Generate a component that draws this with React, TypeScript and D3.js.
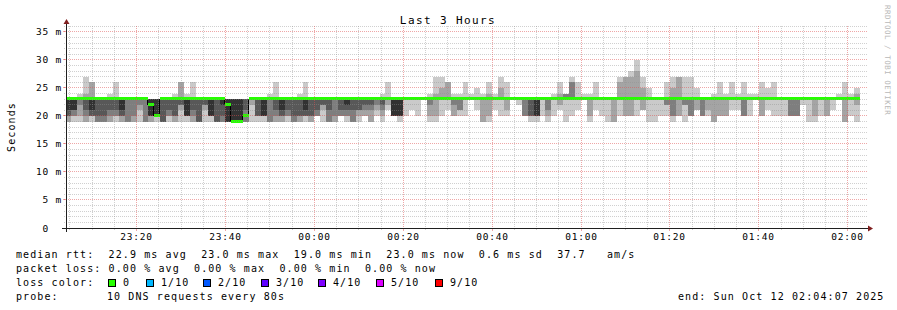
import React from 'react';
import * as d3 from 'd3';

// ---- data ----
// 10 sorted ping RTTs (ms) per 80 s step, first step is a partial one
const pings: number[][] = [
  [19,19,20,20,21,23,23,23,23,23],
  [19,20,20,21,21,23,23,23,23,23],
  [19,20,22,23,23,23,23,23,23,24],
  [19,19,20,21,23,23,23,23,24,27],
  [19,20,20,20,21,23,23,23,26,26],
  [19,19,19,20,23,23,23,23,23,23],
  [19,19,19,20,23,23,23,23,23,23],
  [19,19,20,21,23,23,23,23,23,24],
  [19,20,20,21,23,23,23,23,23,26],
  [19,19,20,20,21,23,23,23,23,23],
  [19,19,19,23,23,23,23,23,23,23],
  [19,19,20,23,23,23,23,23,23,23],
  [19,21,22,23,23,23,23,23,23,23],
  [19,19,19,23,23,23,23,23,23,23],
  [19,19,20,20,20,23,23,23,23,23],
  [19,20,20,20,20,23,23,23,23,23],
  [19,19,19,19,23,23,23,23,23,23],
  [19,20,20,21,23,23,23,23,23,23],
  [19,19,20,20,23,23,23,23,23,24],
  [19,21,22,22,23,23,23,23,26,26],
  [19,20,20,20,20,23,23,23,23,24],
  [19,19,20,21,23,23,23,23,23,26],
  [19,19,19,19,23,23,23,23,23,23],
  [19,21,22,22,23,23,23,23,23,23],
  [19,20,20,20,20,23,23,23,23,23],
  [19,19,19,19,23,23,23,23,23,23],
  [19,19,19,20,22,23,23,23,23,23],
  [19,19,19,19,19,23,23,23,23,23],
  [19,19,19,19,19,23,23,23,23,23],
  [19,19,19,19,19,23,23,23,23,23],
  [19,19,19,21,23,23,23,23,23,23],
  [19,22,23,23,23,23,23,23,23,23],
  [19,20,20,20,23,23,23,23,23,23],
  [19,20,20,20,20,23,23,23,23,23],
  [19,19,19,23,23,23,23,23,23,24],
  [19,19,20,21,23,23,23,23,23,26],
  [19,19,20,20,21,23,23,23,23,23],
  [19,20,20,21,23,23,23,23,23,23],
  [19,19,19,20,23,23,23,23,23,23],
  [19,19,20,20,23,23,23,23,23,24],
  [19,20,20,20,21,23,23,23,23,26],
  [19,19,20,20,23,23,23,23,23,23],
  [20,20,20,21,23,23,23,23,23,23],
  [19,21,22,22,23,23,23,23,23,23],
  [19,19,19,21,23,23,23,23,23,23],
  [19,19,20,23,23,23,23,23,23,23],
  [20,20,20,21,23,23,23,23,23,23],
  [19,20,20,21,22,23,23,23,23,23],
  [19,19,19,21,23,23,23,23,23,23],
  [19,20,21,21,23,23,23,23,23,23],
  [20,20,21,22,23,23,23,23,23,23],
  [19,19,21,22,23,23,23,23,23,23],
  [20,21,22,23,23,23,23,23,23,23],
  [19,20,21,22,23,23,23,23,23,24],
  [21,22,23,23,23,23,23,23,23,26],
  [20,20,20,20,20,23,23,23,23,23],
  [19,20,20,20,20,23,23,23,23,23],
  [20,23,23,23,23,23,23,23,23,23],
  [21,23,23,23,23,23,23,23,23,23],
  [20,23,23,23,23,23,23,23,23,23],
  [23,23,23,23,23,23,23,23,23,23],
  [19,20,22,23,23,23,23,23,23,24],
  [19,20,23,23,23,23,23,23,24,27],
  [20,23,23,23,23,23,23,23,25,27],
  [21,23,23,23,23,23,23,23,26,26],
  [20,20,22,23,23,23,23,23,23,24],
  [20,21,21,23,23,23,23,23,23,24],
  [20,23,23,23,23,23,23,23,23,26],
  [23,23,23,23,23,23,23,23,23,24],
  [21,23,23,23,23,23,23,23,23,25],
  [19,19,23,23,23,23,23,23,23,24],
  [19,20,23,23,23,23,23,23,24,26],
  [21,23,23,23,23,23,23,23,23,24],
  [20,23,23,23,23,23,23,23,25,27],
  [20,21,23,23,23,23,23,23,23,26],
  [23,23,23,23,23,23,23,23,23,23],
  [22,23,23,23,23,23,23,23,23,23],
  [20,20,20,23,23,23,23,23,23,23],
  [19,20,20,20,23,23,23,23,23,23],
  [19,20,20,20,20,23,23,23,23,23],
  [20,23,23,23,23,23,23,23,23,23],
  [19,20,21,23,23,23,23,23,23,23],
  [20,23,23,23,23,23,23,23,23,24],
  [21,22,23,23,23,23,23,23,24,26],
  [19,23,23,23,23,23,23,24,24,24],
  [20,23,23,23,23,23,23,26,26,27],
  [21,23,23,23,23,23,23,23,23,26],
  [23,23,23,23,23,23,23,23,23,24],
  [19,20,23,23,23,23,23,23,23,24],
  [21,23,23,23,23,23,23,23,23,26],
  [20,23,23,23,23,23,23,23,23,23],
  [19,23,23,23,23,23,23,23,23,23],
  [19,19,23,23,23,23,23,23,23,23],
  [20,23,23,23,23,23,23,23,26,27],
  [20,20,23,23,23,23,23,23,27,27],
  [20,20,23,23,23,23,23,23,27,28],
  [20,23,23,23,23,23,23,23,28,30],
  [21,21,23,23,23,23,23,23,25,27],
  [19,23,23,23,23,23,23,23,23,25],
  [19,23,23,23,23,23,23,23,23,23],
  [20,23,23,23,23,23,23,23,23,23],
  [20,22,22,23,23,23,23,23,23,26],
  [19,20,20,23,23,23,23,23,25,27],
  [20,20,23,23,23,23,23,23,27,27],
  [19,22,22,23,23,23,23,23,23,27],
  [20,20,20,23,23,23,23,23,23,27],
  [21,21,23,23,23,23,23,23,23,25],
  [20,20,20,23,23,23,23,23,23,23],
  [20,21,23,23,23,23,23,23,23,23],
  [19,19,23,23,23,23,23,23,23,24],
  [20,20,23,23,23,23,23,23,23,26],
  [20,20,23,23,23,23,23,23,23,24],
  [21,23,23,23,23,23,23,23,23,26],
  [21,23,23,23,23,23,23,23,23,24],
  [20,20,20,23,23,23,23,23,23,26],
  [20,23,23,23,23,23,23,23,23,24],
  [23,23,23,23,23,23,23,23,23,24],
  [20,20,23,23,23,23,23,23,23,26],
  [21,23,23,23,23,23,23,23,23,25],
  [20,23,23,23,23,23,23,23,23,26],
  [20,23,23,23,23,23,23,23,23,23],
  [20,23,23,23,23,23,23,23,23,23],
  [20,20,20,23,23,23,23,23,23,23],
  [20,20,20,23,23,23,23,23,23,23],
  [22,23,23,23,23,23,23,23,23,23],
  [19,23,23,23,23,23,23,23,23,23],
  [19,20,23,23,23,23,23,23,23,23],
  [20,23,23,23,23,23,23,23,23,23],
  [20,20,23,23,23,23,23,23,23,23],
  [21,23,23,23,23,23,23,23,23,23],
  [23,23,23,23,23,23,23,23,23,24],
  [19,19,23,23,23,23,23,23,23,26],
  [20,23,23,23,23,23,23,23,23,24],
  [19,22,23,23,23,23,23,23,24,25],
];

// median RTT (ms) per step
const medians: number[] = [
  23,23,23,23,23,23,23,23,23,23,23,23,23,23,22,20,23,23,23,23,
  23,23,23,23,23,23,23,22,19,19,20,23,23,23,23,23,23,23,23,23,
  23,23,23,23,23,23,23,23,23,23,23,23,23,23,23,23,23,23,23,23,
  23,23,23,23,23,23,23,23,23,23,23,23,23,23,23,23,23,23,23,23,
  23,23,23,23,23,23,23,23,23,23,23,23,23,23,23,23,23,23,23,23,
  23,23,23,23,23,23,23,23,23,23,23,23,23,23,23,23,23,23,23,23,
  23,23,23,23,23,23,23,23,23,23,23,23,23,23,
];

const yTickValues = [0, 5, 10, 15, 20, 25, 30, 35];
const yTickLabels = ['0', '5 m', '10 m', '15 m', '20 m', '25 m', '30 m', '35 m'];
const xTickLabels = ['23:20', '23:40', '00:00', '00:20', '00:40', '01:00', '01:20', '01:40', '02:00'];
const lossLabels = ['0', '1/10', '2/10', '3/10', '4/10', '5/10', '9/10'];
const lossColors = ['#26ff00', '#00b8ff', '#0059ff', '#5e00ff', '#7e00ff', '#dd00ff', '#ff0000'];
const smokeGrays = ['#cacaca', '#a4a4a4', '#7e7e7e', '#585858', '#323232'];
const titleText = 'Last 3 Hours';
const yAxisTitle = 'Seconds';
const legendRtt = 'median rtt:  22.9 ms avg  23.0 ms max  19.0 ms min  23.0 ms now  0.6 ms sd  37.7   am/s';
const legendLoss = 'packet loss: 0.00 % avg  0.00 % max  0.00 % min  0.00 % now';
const legendLossColor = 'loss color:';
const legendProbe = 'probe:';
const probeText = '10 DNS requests every 80s';
const endText = 'end: Sun Oct 12 02:04:07 2025';
const watermark = 'RRDTOOL / TOBI OETIKER';

// time: seconds since the graph start (23:04:07), 3 hours wide
const startClock = 23 * 3600 + 4 * 60 + 7;
const spanSec = 3 * 3600;
const stepSec = 80;
const firstStepEnd = 73;
const yMax = 36.07;

const mono = "'DejaVu Sans Mono', monospace";

function clockToOffset(label: string): number {
  const [h, m] = label.split(':').map(Number);
  let t = h * 3600 + m * 60;
  if (h < 12) t += 86400;
  return t - startClock;
}

const pre = { whiteSpace: 'pre' as const };

export default function App() {
  const W = 897, H = 310;
  const X0 = 66, X1 = 866, Y0 = 228, YT = 26;
  const x = d3.scaleLinear().domain([0, spanSec]).range([X0, X1]);
  const y = d3.scaleLinear().domain([0, yMax]).range([Y0, YT]);

  const bins = pings.map((p, k) => {
    const tEnd = firstStepEnd + stepSec * k;
    const tStart = Math.max(0, tEnd - stepSec);
    return { p, m: medians[k], x0: Math.round(x(tStart)) + (k === 0 ? 1 : 0), x1: Math.round(x(tEnd)) };
  });

  const minorH: number[] = d3.range(1, Math.floor(yMax) + 1).filter((v) => v % 5 !== 0);
  const majorH: number[] = yTickValues.filter((v) => v > 0);
  const majorV = xTickLabels.map(clockToOffset);
  const minorV: number[] = [];
  for (let t = 53; t <= spanSec; t += 300) {
    if (!majorV.some((mv) => Math.abs(mv - t) < 1)) minorV.push(t);
  }
  const gridMinor = 'rgba(143,143,143,0.42)';
  const gridMajor = 'rgba(222,79,79,0.5)';
  const px = (v: number) => Math.floor(v) + 0.5;

  const transitions: { x: number; a: number; b: number }[] = [];
  for (let k = 1; k < bins.length; k++) {
    if (bins[k].m !== bins[k - 1].m) transitions.push({ x: bins[k].x0, a: bins[k - 1].m, b: bins[k].m });
  }

  const legendSquareX = [108, 146, 203, 261, 318, 376, 435];

  return (
    <svg width={W} height={H} style={{ position: 'absolute', left: 0, top: 0, background: '#ffffff' }}>
      <rect x={0} y={0} width={W} height={H} fill="#ffffff" />
      <g shapeRendering="crispEdges">
        {bins.map((b, k) =>
          smokeGrays.map((c, i) => {
            const lo = b.p[i], hi = b.p[9 - i];
            if (hi <= lo) return null;
            return (
              <rect key={`s${k}-${i}`} x={b.x0} width={b.x1 - b.x0} y={Math.round(y(hi))}
                height={Math.round(y(lo)) - Math.round(y(hi))} fill={c} />
            );
          })
        )}
      </g>
      <g shapeRendering="crispEdges">
        {transitions.map((t, i) => (
          <line key={`t${i}`} x1={t.x - 0.5} x2={t.x - 0.5} y1={y(t.a)} y2={y(t.b)} stroke="#000" strokeWidth={1} />
        ))}
        {bins.map((b, k) => (
          <rect key={`m${k}`} x={b.x0} width={b.x1 - b.x0} y={Math.round(y(b.m)) - 2} height={3} fill={lossColors[0]} />
        ))}
      </g>
      <g>
        {minorH.map((v) => (
          <line key={`hm${v}`} x1={X0 - 2} x2={X1 + 2} y1={px(y(v))} y2={px(y(v))} stroke={gridMinor} strokeDasharray="1 1" />
        ))}
        {majorH.map((v) => (
          <g key={`hM${v}`}>
            <line x1={X0 - 2} x2={X1 + 2} y1={px(y(v))} y2={px(y(v))} stroke={gridMajor} strokeDasharray="1 1" />
            <line x1={X0 - 3} x2={X0} y1={px(y(v))} y2={px(y(v))} stroke={gridMajor} />
          </g>
        ))}
        {minorV.map((t) => (
          <g key={`vm${t}`}>
            <line x1={px(x(t))} x2={px(x(t))} y1={YT} y2={Y0} stroke={gridMinor} strokeDasharray="1 1" />
            <line x1={px(x(t))} x2={px(x(t))} y1={Y0} y2={Y0 + 2} stroke={gridMinor} />
          </g>
        ))}
        {majorV.map((t) => (
          <g key={`vM${t}`}>
            <line x1={px(x(t))} x2={px(x(t))} y1={YT} y2={Y0} stroke={gridMajor} strokeDasharray="1 1" />
            <line x1={px(x(t))} x2={px(x(t))} y1={Y0} y2={Y0 + 3} stroke={gridMajor} />
          </g>
        ))}
      </g>
      <g>
        <line x1={X0 - 4} x2={X1 + 4} y1={Y0 + 0.5} y2={Y0 + 0.5} stroke="#1f1f1f" strokeWidth={1} />
        <line x1={X0 + 0.5} x2={X0 + 0.5} y1={Y0 + 4} y2={YT - 4} stroke="#1f1f1f" strokeWidth={1} />
        <polygon points={`${X1 + 2},${Y0 - 2.5} ${X1 + 2},${Y0 + 3.5} ${X1 + 7},${Y0 + 0.5}`} fill="#801f1f" />
        <polygon points={`${X0 - 2.5},${YT - 2} ${X0 + 3.5},${YT - 2} ${X0 + 0.5},${YT - 7}`} fill="#801f1f" />
      </g>
      <g fontFamily={mono} fontSize={9.5} fill="#000">
        {yTickValues.map((v, i) => {
          const lab = yTickLabels[i];
          const parts = lab.split(' ');
          const s = parts[0].padStart(2, ' ') + (parts[1] ? ' ' + parts[1] : '');
          return (
            <text key={`yl${v}`} x={36} y={y(v) + 3.5} letterSpacing={0.8} xmlSpace="preserve" style={pre}>{s}</text>
          );
        })}
        {xTickLabels.map((lab) => (
          <text key={`xl${lab}`} x={px(x(clockToOffset(lab)))} y={240} textAnchor="middle" letterSpacing={0.8}>{lab}</text>
        ))}
      </g>
      <text x={448} y={24} textAnchor="middle" fontFamily={mono} fontSize={11} letterSpacing={1.4}>{titleText}</text>
      <text transform="translate(15,127) rotate(-90)" textAnchor="middle" fontFamily={mono} fontSize={10} letterSpacing={1.1}>{yAxisTitle}</text>
      <text transform="translate(885,5) rotate(90)" fontFamily={mono} fontSize={7.5} letterSpacing={0.5} fill="#b8b8b8">{watermark}</text>
      <g fontFamily={mono} fontSize={10} letterSpacing={1.1} fill="#000">
        <text x={16} y={258} xmlSpace="preserve" style={pre}>{legendRtt}</text>
        <text x={16} y={271.5} xmlSpace="preserve" style={pre}>{legendLoss}</text>
        <text x={16} y={285.5} xmlSpace="preserve" style={pre}>{legendLossColor}</text>
        {lossLabels.map((l, i) => (
          <g key={`lg${l}`}>
            <rect x={legendSquareX[i] + 0.5} y={279.5} width={7} height={7} fill={lossColors[i]} stroke="#000" strokeWidth={1} />
            <text x={legendSquareX[i] + 15} y={285.5}>{l}</text>
          </g>
        ))}
        <text x={16} y={299.5} xmlSpace="preserve" style={pre}>{legendProbe}</text>
        <text x={107} y={299.5} xmlSpace="preserve" style={pre}>{probeText}</text>
        <text x={678} y={299.5} xmlSpace="preserve" style={pre}>{endText}</text>
      </g>
    </svg>
  );
}
